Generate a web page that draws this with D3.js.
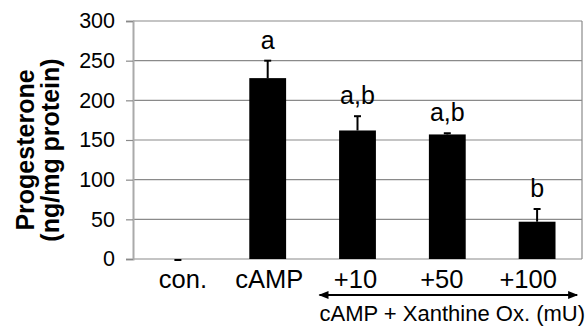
<!DOCTYPE html>
<html>
<head>
<script src="https://d3js.org/d3.v7.min.js"></script>
<style>
  body { margin: 0; background: #fff; }
  text { font-family: Arial, "Liberation Sans", sans-serif; fill: #000; }
</style>
</head>
<body>
<svg width="586" height="327"></svg>
<script>
// data
const categories = ["con.", "cAMP", "+10", "+50", "+100"];
const means = [0, 228, 162, 157, 47];
const errors = [0, 22, 18, 1.5, 16];
const letters = ["", "a", "a,b", "a,b", "b"];
const yTicks = [0, 50, 100, 150, 200, 250, 300];

const svg = d3.select("svg"),
      margin = {top: 21, right: 4, bottom: 68, left: 133},
      width = +svg.attr("width") - margin.left - margin.right,
      height = +svg.attr("height") - margin.top - margin.bottom,
      g = svg.append("g").attr("transform", "translate(" + margin.left + "," + margin.top + ")");

const x = d3.scaleBand().domain(categories).range([0, width]);
const y = d3.scaleLinear().domain([0, 300]).range([height, 0]);
// category labels sit a little closer together than the bars
const xl = d3.scalePoint().domain(categories).range([x("con.") + x.bandwidth() / 2 + 5, x("+100") + x.bandwidth() / 2 - 9]);

const barW = x.bandwidth() * 0.41;
const grey = "#8a8a8a";

// gridlines
g.selectAll(".grid").data(yTicks).enter().append("line")
  .attr("x1", 0).attr("x2", width)
  .attr("y1", d => y(d)).attr("y2", d => y(d))
  .attr("stroke", grey).attr("stroke-width", 1.2);

// right border
g.append("line").attr("x1", width).attr("x2", width).attr("y1", 0).attr("y2", height)
  .attr("stroke", grey).attr("stroke-width", 1.2);

// y axis
const yAxis = g.append("g")
  .call(d3.axisLeft(y).tickValues(yTicks).tickSize(7).tickPadding(11));
yAxis.select(".domain").attr("stroke", "#aaa").attr("stroke-width", 2);
yAxis.selectAll(".tick line").attr("stroke", grey).attr("stroke-width", 1.2);
yAxis.selectAll(".tick text").attr("font-size", 21.5).attr("fill", "#000")
  .attr("font-family", "Arial, 'Liberation Sans', sans-serif");

// bars
g.selectAll(".bar").data(categories).enter().append("rect")
  .attr("x", d => x(d) + (x.bandwidth() - barW) / 2)
  .attr("width", barW)
  .attr("y", (d, i) => y(means[i]))
  .attr("height", (d, i) => height - y(means[i]))
  .attr("fill", "#000");

// error bars (upper only)
const eb = g.selectAll(".err").data(categories).enter().append("g");
eb.append("line")
  .attr("x1", d => x(d) + x.bandwidth() / 2).attr("x2", d => x(d) + x.bandwidth() / 2)
  .attr("y1", (d, i) => y(means[i])).attr("y2", (d, i) => y(means[i] + errors[i]))
  .attr("stroke", "#000").attr("stroke-width", 2);
eb.append("line")
  .attr("x1", d => x(d) + x.bandwidth() / 2 - 3.5).attr("x2", d => x(d) + x.bandwidth() / 2 + 3.5)
  .attr("y1", (d, i) => y(means[i] + errors[i]) + (errors[i] ? 0 : 1))
  .attr("y2", (d, i) => y(means[i] + errors[i]) + (errors[i] ? 0 : 1))
  .attr("stroke", "#000").attr("stroke-width", 2);

// significance letters
g.selectAll(".letter").data(categories).enter().append("text")
  .attr("x", d => x(d) + x.bandwidth() / 2)
  .attr("y", (d, i) => y(means[i] + errors[i]) - 12)
  .attr("text-anchor", "middle")
  .attr("font-size", 25)
  .text((d, i) => letters[i]);

// category labels
g.selectAll(".cat").data(categories).enter().append("text")
  .attr("x", d => xl(d))
  .attr("y", height + 29)
  .attr("text-anchor", "middle")
  .attr("font-size", 25.5)
  .text(d => d);

// double arrow under the xanthine oxidase groups
const defs = svg.append("defs");
defs.append("marker").attr("id", "head")
  .attr("viewBox", "0 0 10 8").attr("refX", 9).attr("refY", 4)
  .attr("markerWidth", 11).attr("markerHeight", 8).attr("markerUnits", "userSpaceOnUse")
  .attr("orient", "auto-start-reverse")
  .append("path").attr("d", "M0,0 L10,4 L0,8 Z").attr("fill", "#000");

const arrowY = height + 36;
g.append("line")
  .attr("x1", xl("+10") - 36).attr("x2", xl("+100") + 49)
  .attr("y1", arrowY).attr("y2", arrowY)
  .attr("stroke", "#000").attr("stroke-width", 2)
  .attr("marker-start", "url(#head)").attr("marker-end", "url(#head)");

g.append("text")
  .attr("x", width + 3)
  .attr("y", height + 62)
  .attr("text-anchor", "end")
  .attr("font-size", 22)
  .text("cAMP + Xanthine Ox. (mU)");

// y axis title
const title = svg.append("text")
  .attr("transform", "translate(0,150) rotate(-90)")
  .attr("text-anchor", "middle")
  .attr("font-size", 25)
  .attr("font-weight", "bold");
title.append("tspan").attr("x", 0).attr("y", 34).text("Progesterone");
title.append("tspan").attr("x", 0).attr("y", 59).text("(ng/mg protein)");
</script>
</body>
</html>
